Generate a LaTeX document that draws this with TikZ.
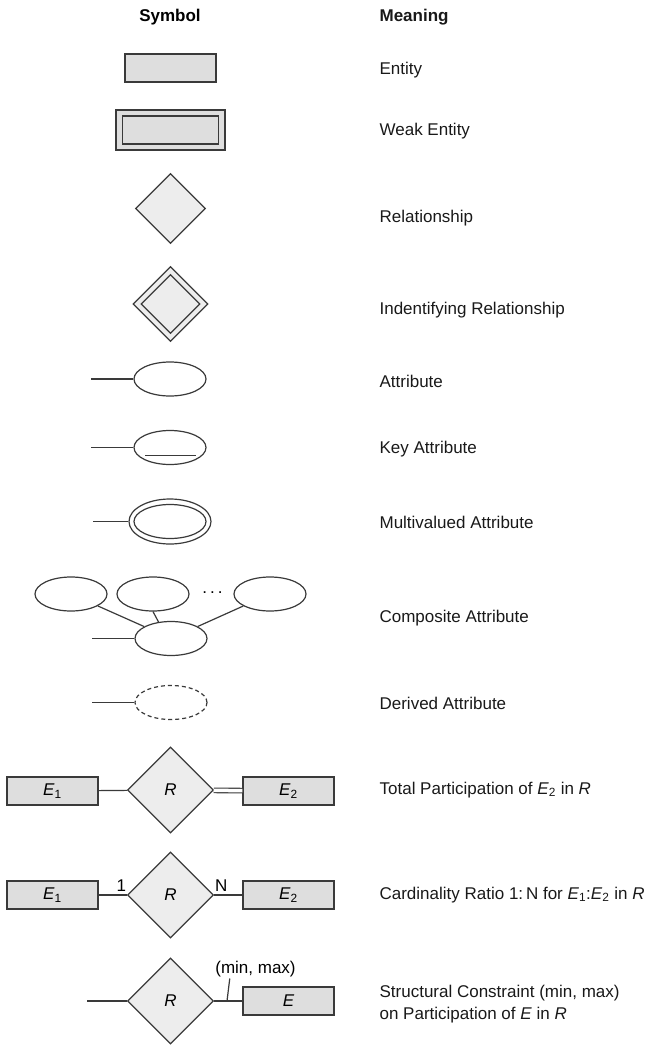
\documentclass[tikz,border=0pt]{standalone}
\usepackage{fontspec}
\setmainfont{Liberation Sans}
\usepackage{tikz}
\usetikzlibrary{shapes, positioning}
\definecolor{entgray}{HTML}{DEDEDE}
\definecolor{relgray}{HTML}{EDEDED}
\definecolor{ink}{HTML}{3A3A3A}

\begin{document}
\begin{tikzpicture}[x=1pt, y=-1pt, line width=1.2pt, draw=ink,
        font=\fontsize{17}{22}\selectfont,
        ent/.style={draw=ink, fill=entgray, rectangle, minimum width=91pt, minimum height=28pt, inner sep=0pt},
        rel/.style={draw=ink, fill=relgray, diamond, minimum width=86pt, minimum height=86pt, inner sep=0pt},
        attr/.style={draw=ink, ellipse, minimum width=72pt, minimum height=34pt, inner sep=0pt},
        lbl/.style={anchor=west, inner sep=0pt, text=black!90}]
    \useasboundingbox (0,0) rectangle (649,1046);

    % headings
    \node[font=\fontsize{17}{22}\selectfont\bfseries] (hsym) at (170,17) {Symbol};
    \node[lbl, font=\fontsize{17}{22}\selectfont\bfseries] (hmean) at (379,17) {Meaning};

    % entity, weak entity
    \node[ent] (ent) at (170.5,68) {};
    \node[ent, minimum width=109pt, minimum height=40pt] (weak) at (170.5,130) {};
    \node[ent, minimum width=96pt, minimum height=28pt] (weakin) at (weak) {};

    % relationships
    \node[rel, minimum width=70pt, minimum height=70pt] (rel) at (170.5,208.5) {};
    \node[rel, minimum width=75pt, minimum height=75pt] (idrel) at (170.5,304) {};
    \node[rel, minimum width=59pt, minimum height=59pt] (idrelin) at (idrel) {};

    % attributes
    \node[attr] (att) at (170,379) {};
    \coordinate (attend) at (91,379);
    \draw (attend) -- (att);

    \node[attr] (key) at (170,447.5) {};
    \coordinate (keyend) at (91,447.5);
    \draw (keyend) -- (key);
    \draw ([shift={(-25,8)}]key.center) -- ([shift={(26,8)}]key.center);

    \node[attr, minimum width=82pt, minimum height=45pt] (multi) at (170,521.5) {};
    \node[attr] (multiin) at (multi) {};
    \coordinate (multiend) at (93,521.5);
    \draw (multiend) -- (multi);

    % composite
    \node[attr] (cA) at (71,594) {};
    \node[attr] (cB) at (153,594) {};
    \node[attr] (cC) at (270,594) {};
    \node[inner sep=0pt] (cdots) at (212.5,593) {.\hspace{3pt}.\hspace{3pt}.};
    \node[attr] (comp) at (171,638.5) {};
    \coordinate (compend) at (92,638.5);
    \draw (compend) -- (comp);
    \draw (cA) -- (comp);
    \draw (cB.south) -- (comp.127);
    \draw (cC) -- (comp);

    % derived
    \node[attr, dashed, dash pattern=on 4pt off 3pt] (der) at (171,702.5) {};
    \coordinate (derend) at (92,702.5);
    \draw (derend) -- (der);

    % total participation
    \node[rel] (r1) at (170.5,790) {\textit{R}};
    \node[ent] (e11) at (52.5,791) {\textit{E}\textsubscript{1}};
    \node[ent] (e12) at (288.5,791) {\textit{E}\textsubscript{2}};
    \draw (e11) -- (r1);
    \draw[double=white, double distance=3.5pt, line width=1.1pt] (r1) -- (e12);

    % cardinality ratio
    \node[rel] (r2) at (170.5,895) {\textit{R}};
    \node[ent] (e21) at (52.5,895) {\textit{E}\textsubscript{1}};
    \node[ent] (e22) at (288.5,895) {\textit{E}\textsubscript{2}};
    \draw (e21) -- node[pos=0.8, above, inner sep=3pt] (one) {1} (r2);
    \draw (r2) -- node[pos=0.25, above, inner sep=3pt] (many) {N} (e22);

    % structural constraint
    \node[rel] (r3) at (170.5,1001) {\textit{R}};
    \node[ent] (e3) at (288.5,1001) {\textit{E}};
    \coordinate (r3end) at (87,1001);
    \coordinate (tick) at (227,1001);
    \node[inner sep=1pt] (mm) at (255.5,969) {(min, max)};
    \draw (r3end) -- (r3);
    \draw (r3) -- (e3);
    \draw (tick) -- ([xshift=16pt]mm.south west);

    % meanings
    \node[lbl] (tent) at (379,70) {Entity};
    \node[lbl] (tweak) at (379,131) {Weak Entity};
    \node[lbl] (trel) at (379,218) {Relationship};
    \node[lbl] (tidrel) at (379,310) {Indentifying Relationship};
    \node[lbl] (tatt) at (379,381) {Attribute};
    \node[lbl] (tkey) at (379,449) {Key Attribute};
    \node[lbl] (tmulti) at (379,522) {Multivalued Attribute};
    \node[lbl] (tcomp) at (379,618) {Composite Attribute};
    \node[lbl] (tder) at (379,703) {Derived Attribute};
    \node[lbl] (ttot) at (379,790) {Total Participation of \textit{E}\textsubscript{2} in \textit{R}};
    \node[lbl] (tcard) at (379,895) {Cardinality Ratio 1:\,N for \textit{E}\textsubscript{1}:\textit{E}\textsubscript{2} in \textit{R}};
    \node[lbl, align=left] (tstruct) at (379,1004) {Structural Constraint (min, max)\\on Participation of \textit{E} in \textit{R}};
\end{tikzpicture}
\end{document}
